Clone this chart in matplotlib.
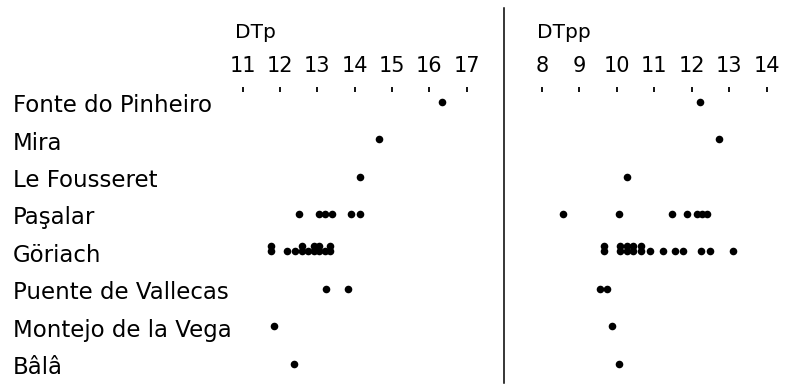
"""
Dot strip chart of DTp and DTpp measurements for eight localities.
"""

import matplotlib.pyplot as plt
from matplotlib.lines import Line2D
from matplotlib.transforms import blended_transform_factory, ScaledTranslation

# ============================================================================
# DATA
# ============================================================================

SITES = ['Fonte do Pinheiro', 'Mira', 'Le Fousseret', 'Paşalar', 'Göriach',
         'Puente de Vallecas', 'Montejo de la Vega', 'Bâlâ']

DTP_TICKS = [11, 12, 13, 14, 15, 16, 17]
DTPP_TICKS = [8, 9, 10, 11, 12, 13, 14]

# one list per site, same order as SITES (repeated values are stacked)
DTP_VALUES = [
    [16.35],
    [14.65],
    [14.15],
    [12.52, 13.05, 13.2, 13.38, 13.9, 14.15],
    [11.75, 11.75, 12.2, 12.4, 12.58, 12.58, 12.75, 12.9, 12.9,
     13.05, 13.05, 13.2, 13.35, 13.35],
    [13.23, 13.83],
    [11.85],
    [12.38],
]

DTPP_VALUES = [
    [12.22],
    [12.72],
    [10.28],
    [8.58, 10.07, 11.47, 11.87, 12.15, 12.28, 12.4],
    [9.66, 9.66, 10.09, 10.09, 10.27, 10.27, 10.44, 10.44, 10.64, 10.64,
     10.9, 11.24, 11.55, 11.77, 12.26, 12.48, 13.1],
    [9.55, 9.73],
    [9.87],
    [10.06],
]

# ============================================================================
# LAYOUT (pixels on a 789x385 canvas)
# ============================================================================

W, H, DPI = 789, 385, 100
ROW0_PX = 101.7          # centre of first row
ROW_STEP_PX = 37.4       # distance between rows
AXIS_TOP_PX = 87         # where tick marks start
STACK_STEP = 0.15        # vertical offset (rows) for repeated values
DOT_SIZE = 30

LEFT_X0_PX, LEFT_UNIT_PX = 242.7, 37.33    # pixel of 11, px per unit
RIGHT_X0_PX, RIGHT_UNIT_PX = 541.7, 37.5   # pixel of 8, px per unit

FONT = 'DejaVu Sans'


def stacked_points(values_by_site):
    xs, ys = [], []
    for row, values in enumerate(values_by_site):
        seen = {}
        for v in values:
            level = seen.get(v, 0)
            seen[v] = level + 1
            xs.append(v)
            ys.append(row - level * STACK_STEP)
    return xs, ys


def make_axes(fig, x0_px, unit_px, first_tick):
    lo, hi = first_tick - 0.5, first_tick + 6.5
    left_px = x0_px - 0.5 * unit_px
    width_px = 7 * unit_px
    height_frac = (H - AXIS_TOP_PX) / H
    ax = fig.add_axes([left_px / W, 0.0, width_px / W, height_frac])
    ax.set_xlim(lo, hi)
    ymin = (AXIS_TOP_PX - ROW0_PX) / ROW_STEP_PX
    ymax = (H - ROW0_PX) / ROW_STEP_PX
    ax.set_ylim(ymax, ymin)
    for s in ax.spines.values():
        s.set_visible(False)
    ax.set_yticks([])
    ax.xaxis.tick_top()
    ax.tick_params(axis='x', direction='in', length=3.8, width=1.3,
                   pad=8, labelsize=15, colors='black')
    return ax


def create_chart():
    fig = plt.figure(figsize=(W / DPI, H / DPI), dpi=DPI)

    ax_l = make_axes(fig, LEFT_X0_PX, LEFT_UNIT_PX, DTP_TICKS[0])
    ax_l.set_xticks(DTP_TICKS)
    ax_l.set_xticklabels([str(t) for t in DTP_TICKS], family=FONT)
    xs, ys = stacked_points(DTP_VALUES)
    ax_l.scatter(xs, ys, s=DOT_SIZE, color='black', linewidths=0, zorder=3)

    ax_r = make_axes(fig, RIGHT_X0_PX, RIGHT_UNIT_PX, DTPP_TICKS[0])
    ax_r.set_xticks(DTPP_TICKS)
    ax_r.set_xticklabels([str(t) for t in DTPP_TICKS], family=FONT)
    xs, ys = stacked_points(DTPP_VALUES)
    ax_r.scatter(xs, ys, s=DOT_SIZE, color='black', linewidths=0, zorder=3)

    # site names, left aligned at the figure edge, a little below the dots
    trans = blended_transform_factory(fig.transFigure, ax_l.transData)
    trans = trans + ScaledTranslation(0, -4 / DPI, fig.dpi_scale_trans)
    for row, name in enumerate(SITES):
        ax_l.text(13 / W, row, name, transform=trans, ha='left', va='center',
                  fontsize=16.5, family=FONT, clip_on=False)

    # headers
    fig.text(235 / W, 1 - 33 / H, 'DTp', ha='left', va='center',
             fontsize=14.5, family=FONT)
    fig.text(537 / W, 1 - 33 / H, 'DTpp', ha='left', va='center',
             fontsize=14.5, family=FONT)

    # divider between the two panels
    fig.add_artist(Line2D([504 / W, 504 / W], [1 - 8 / H, 1 - 383 / H],
                          transform=fig.transFigure, color='black', lw=1.1))
    return fig


def main():
    fig = create_chart()
    fig.savefig('out.png', dpi=DPI)
    plt.close(fig)


if __name__ == "__main__":
    main()
